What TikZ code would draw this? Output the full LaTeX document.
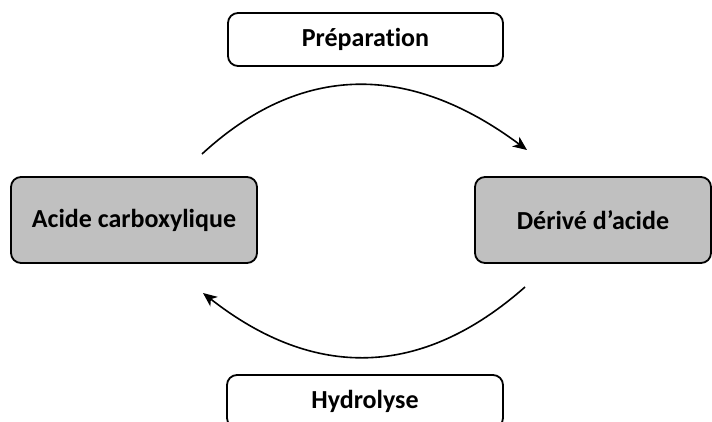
\documentclass[tikz,border=0pt]{standalone}
\usepackage{fontspec}
\setmainfont[Ligatures={NoCommon}]{Carlito}
\usetikzlibrary{arrows.meta}
\definecolor{boxgray}{RGB}{192,192,192}
\tikzset{
  lbl/.style={draw=black, line width=1.8pt, rounded corners=10pt, fill=white,
    font=\fontsize{26}{30}\selectfont\bfseries, inner sep=0pt, align=center},
  grayfill/.style={fill=boxgray},
  arc/.style={line width=1.6pt, -{Stealth[length=14pt,width=12pt,inset=4pt]}}
}
\begin{document}
\begin{tikzpicture}[x=1pt,y=-1pt]
\useasboundingbox (0,0) rectangle (712,421);
\clip (0,0) rectangle (712,421);
\node[lbl, minimum width=275pt, minimum height=53pt] (prep) at (365.5,39.5) {Préparation};
\node[lbl, grayfill, minimum width=246pt, minimum height=86pt] (acide) at (134,220) {Acide carboxylique};
\node[lbl, grayfill, minimum width=236pt, minimum height=86pt] (derive) at (593,220) {Dérivé d’acide};
\node[lbl, minimum width=276pt, minimum height=53pt] (hydro) at (365,401.5) {Hydrolyse};
\coordinate (t1) at (202,154);
\coordinate (t2) at (527,150);
\coordinate (b1) at (525,287);
\coordinate (b2) at (203,293);
\draw[arc] (t1) .. controls (300.3,63.3) and (408.7,62) .. (t2);
\draw[arc] (b1) .. controls (421.7,378.3) and (314.3,380.3) .. (b2);
\end{tikzpicture}
\end{document}
